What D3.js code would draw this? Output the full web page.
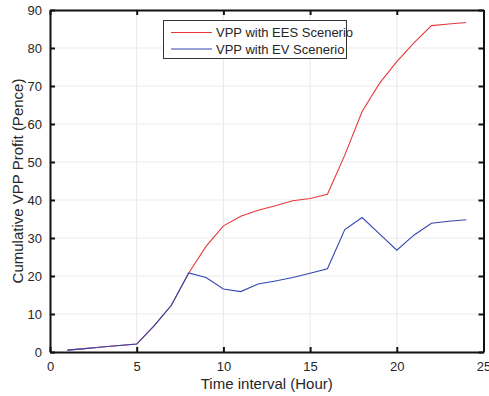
<!DOCTYPE html>
<html>
<head>
<meta charset="utf-8">
<script src="https://cdn.jsdelivr.net/npm/d3@7"></script>
<style>
  body { margin: 0; background: #fff; }
  text { font-family: "Liberation Sans", Arial, sans-serif; fill: #262626; }
</style>
</head>
<body>
<div id="chart"></div>
<script>
const WIDTH = 489
const HEIGHT = 396
const MARGIN = {left: 50, right: 5, top: 10, bottom: 44}

const hours = [1, 2, 3, 4, 5, 6, 7, 8, 9, 10, 11, 12, 13, 14, 15, 16, 17, 18, 19, 20, 21, 22, 23, 24]
const eesProfit = [0.5, 0.9, 1.3, 1.7, 2.1, 6.9, 12.3, 20.8, 27.8, 33.2, 35.7, 37.3, 38.5, 39.8, 40.4, 41.5, 51.8, 63.3, 70.7, 76.4, 81.4, 85.9, 86.3, 86.7]
const evProfit = [0.5, 0.9, 1.3, 1.7, 2.1, 6.9, 12.3, 20.8, 19.6, 16.6, 15.9, 17.9, 18.7, 19.6, 20.7, 21.9, 32.2, 35.4, 31.1, 26.8, 30.8, 33.9, 34.4, 34.8]
const seriesNames = ['VPP with EES Scenerio', 'VPP with EV Scenerio']
const seriesColors = ['#e8383a', '#3346b0']
const xTicks = [0, 5, 10, 15, 20, 25]
const yTicks = [0, 10, 20, 30, 40, 50, 60, 70, 80, 90]

const svg = d3.select('#chart').append('svg')
  .attr('width', WIDTH)
  .attr('height', HEIGHT)

const x = d3.scaleLinear().domain([0, 25]).range([MARGIN.left, WIDTH - MARGIN.right - 0.5])
const y = d3.scaleLinear().domain([0, 90]).range([HEIGHT - MARGIN.bottom, MARGIN.top])

// grid
svg.append('g').selectAll('line')
  .data(xTicks.slice(1, -1))
  .enter().append('line')
  .attr('x1', d => x(d)).attr('x2', d => x(d))
  .attr('y1', y(0)).attr('y2', y(90))
  .attr('stroke', '#ebebeb').attr('stroke-width', 1.2)
svg.append('g').selectAll('line')
  .data(yTicks.slice(1, -1))
  .enter().append('line')
  .attr('x1', x(0)).attr('x2', x(25))
  .attr('y1', d => y(d)).attr('y2', d => y(d))
  .attr('stroke', '#ebebeb').attr('stroke-width', 1.2)

// series lines
const line = d3.line().x((d, i) => x(hours[i])).y(d => y(d))
const allSeries = [eesProfit, evProfit]
allSeries.forEach((s, k) => {
  svg.append('path')
    .datum(s)
    .attr('fill', 'none')
    .attr('stroke', seriesColors[k])
    .attr('stroke-width', 1.1)
    .attr('d', line)
})

// axes, box on all four sides with inward ticks
const axBottom = svg.append('g')
  .attr('transform', `translate(0, ${y(0)})`)
  .call(d3.axisBottom(x).tickValues(xTicks).tickSizeInner(-5).tickSizeOuter(0).tickPadding(10))
const axLeft = svg.append('g')
  .attr('transform', `translate(${x(0)}, 0)`)
  .call(d3.axisLeft(y).tickValues(yTicks).tickSizeInner(-5).tickSizeOuter(0).tickPadding(8))
const axTop = svg.append('g')
  .attr('transform', `translate(0, ${y(90)})`)
  .call(d3.axisTop(x).tickValues(xTicks).tickSizeInner(-5).tickSizeOuter(0).tickFormat(''))
const axRight = svg.append('g')
  .attr('transform', `translate(${x(25)}, 0)`)
  .call(d3.axisRight(y).tickValues(yTicks).tickSizeInner(-5).tickSizeOuter(0).tickFormat(''))

;[axBottom, axLeft, axTop, axRight].forEach(g => {
  g.select('.domain').attr('stroke', '#111').attr('stroke-width', 2)
  g.selectAll('.tick line').attr('stroke', '#111').attr('stroke-width', 2)
  g.selectAll('.tick text').attr('font-size', '13px').attr('fill', '#262626')
    .attr('font-family', '"Liberation Sans", Arial, sans-serif')
})

// axis titles
svg.append('text')
  .attr('x', (x(0) + x(25)) / 2)
  .attr('y', 389)
  .attr('text-anchor', 'middle')
  .attr('font-size', '15px')
  .text('Time interval (Hour)')
svg.append('text')
  .attr('transform', `translate(23, ${(y(0) + y(90)) / 2}) rotate(-90)`)
  .attr('text-anchor', 'middle')
  .attr('font-size', '15px')
  .text('Cumulative VPP Profit (Pence)')

// legend
const legend = svg.append('g')
legend.append('rect')
  .attr('x', 163.5).attr('y', 20.5)
  .attr('width', 183).attr('height', 38)
  .attr('fill', '#fff').attr('stroke', '#333').attr('stroke-width', 1)
seriesNames.forEach((name, k) => {
  const ly = 32.5 + k * 16.5
  legend.append('line')
    .attr('x1', 171).attr('x2', 212)
    .attr('y1', ly).attr('y2', ly)
    .attr('stroke', seriesColors[k]).attr('stroke-width', 1.1)
  legend.append('text')
    .attr('x', 216).attr('y', ly + 4.5)
    .attr('font-size', '13px')
    .text(name)
})
</script>
</body>
</html>
